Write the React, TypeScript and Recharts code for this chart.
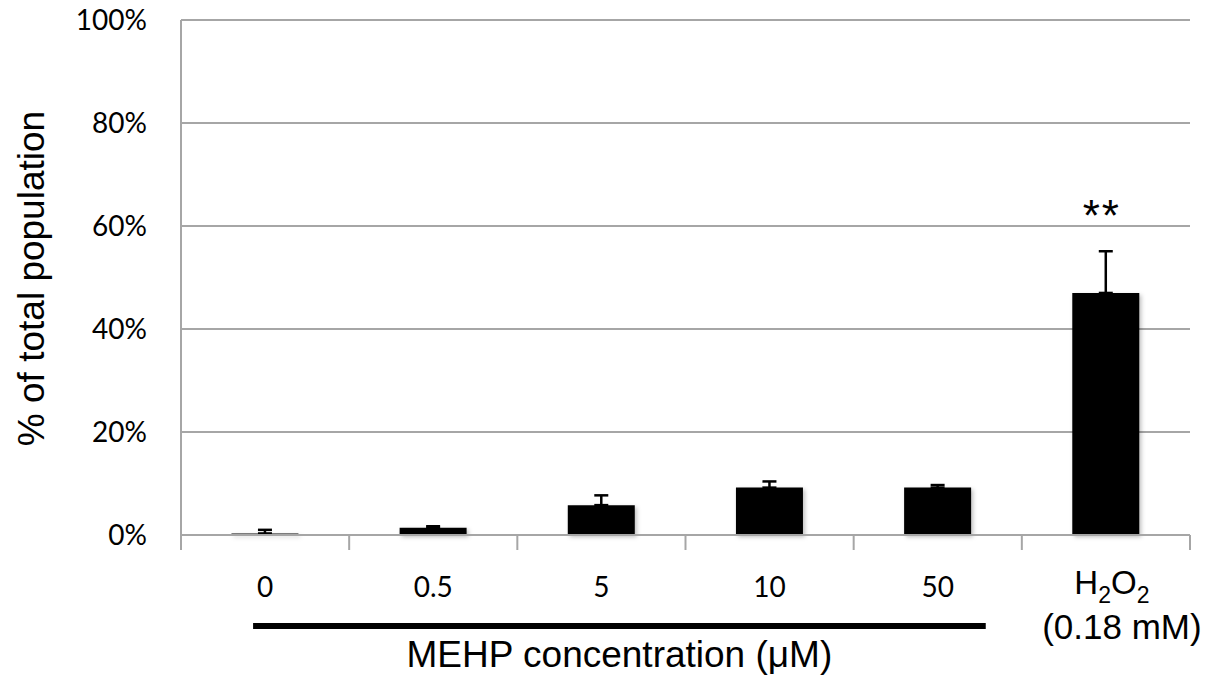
import { BarChart, Bar, XAxis, YAxis, CartesianGrid, ErrorBar, LabelList } from "recharts";

const categories = ["0", "0.5", "5", "10", "50", "H2O2"];
const means = [0.3, 1.4, 5.8, 9.2, 9.2, 47.0];
const errors = [0.7, 0.3, 1.9, 1.2, 0.5, 8.1];
const significance = ["", "", "", "", "", "**"];
const yTicks = [0, 20, 40, 60, 80, 100];

const W = 1207;
const H = 679;
const Y_AXIS_W = 181;
const RIGHT = 17;
const BAND = (W - Y_AXIS_W - RIGHT) / categories.length;

const GRID = "#a6a6a6";
const TICK_FONT = "Lato, 'Open Sans', sans-serif";
const TITLE_FONT = "'Liberation Sans', Arial, sans-serif";

const data = categories.map((c, i) => ({
  name: c,
  value: means[i],
  err: [0, errors[i]],
  sig: significance[i],
}));

// Excel-style tick marks sit on the category boundaries, not under the labels
function EdgeTicks({ x, y, last }: { x: number; y: number; last: boolean }) {
  return (
    <g>
      <line x1={x - BAND / 2} x2={x - BAND / 2} y1={y} y2={y + 15} stroke={GRID} strokeWidth={2} />
      {last && <line x1={x + BAND / 2} x2={x + BAND / 2} y1={y} y2={y + 15} stroke={GRID} strokeWidth={2} />}
    </g>
  );
}

function XTick(props: any) {
  const { x, y, payload, index } = props;
  const last = index === categories.length - 1;
  if (payload.value === "H2O2") {
    return (
      <g>
        <EdgeTicks x={x} y={y} last={last} />
        <text x={x + 6} y={y + 59} textAnchor="middle" fontFamily={TITLE_FONT} fontSize={33} fill="#000">
          H<tspan fontSize={23} dy={9}>2</tspan>
          <tspan dy={-9}>O</tspan>
          <tspan fontSize={23} dy={9}>2</tspan>
        </text>
        <text x={x + 16} y={y + 104} textAnchor="middle" fontFamily={TITLE_FONT} fontSize={35} fill="#000">
          (0.18 mM)
        </text>
      </g>
    );
  }
  // thick bar under the MEHP doses + axis title, drawn once from the first tick
  let extra = null;
  if (index === 0) {
    const x1 = x - 12;
    const x2 = x + BAND * 4 + 48;
    extra = (
      <g>
        <line x1={x1} x2={x2} y1={y + 91} y2={y + 91} stroke="#000" strokeWidth={6} />
        <text x={(x1 + x2) / 2} y={y + 132} textAnchor="middle" fontFamily={TITLE_FONT} fontSize={37} fill="#000">
          MEHP concentration (μM)
        </text>
      </g>
    );
  }
  return (
    <g>
      <EdgeTicks x={x} y={y} last={last} />
      <text x={x} y={y + 62} textAnchor="middle" fontFamily={TICK_FONT} fontSize={28} fill="#000">
        {payload.value}
      </text>
      {extra}
    </g>
  );
}

function YTitle(props: any) {
  const { viewBox } = props;
  const cx = 31;
  const cy = viewBox.y + viewBox.height / 2 + 1;
  return (
    <text
      x={cx}
      y={cy}
      transform={`rotate(-90, ${cx}, ${cy})`}
      textAnchor="middle"
      dominantBaseline="central"
      fontFamily={TITLE_FONT}
      fontSize={37}
      fill="#000"
    >
      % of total population
    </text>
  );
}

function SigLabel(props: any) {
  const { x, y, width, value } = props;
  if (!value) return null;
  return (
    <text
      x={x + width / 2 - 4}
      y={y - 62}
      textAnchor="middle"
      fontFamily={TITLE_FONT}
      fontSize={44}
      letterSpacing={2}
      fill="#000"
    >
      {value}
    </text>
  );
}

export default function App() {
  return (
    <div style={{ width: W, height: H, background: "#fff" }}>
      <style>{`body{margin:0}`}</style>
      <BarChart
        width={W}
        height={H}
        data={data}
        margin={{ top: 20, right: RIGHT, bottom: 0, left: 0 }}
        barCategoryGap="30%"
      >
        <CartesianGrid vertical={false} stroke={GRID} strokeWidth={2} />
        <XAxis
          dataKey="name"
          height={144}
          interval={0}
          axisLine={{ stroke: GRID, strokeWidth: 2 }}
          tickLine={false}
          tickSize={0}
          tickMargin={0}
          tick={<XTick />}
        />
        <YAxis
          width={Y_AXIS_W}
          domain={[0, 100]}
          ticks={yTicks}
          tickFormatter={(v) => `${v}%`}
          axisLine={{ stroke: GRID, strokeWidth: 2 }}
          tickLine={false}
          tickSize={0}
          tickMargin={34}
          tick={{ fill: "#000", fontSize: 28, fontFamily: TICK_FONT }}
          label={<YTitle />}
        />
        <Bar
          dataKey="value"
          fill="#000"
          isAnimationActive={false}
          style={{ filter: "drop-shadow(2px 2px 2px rgba(0,0,0,0.25))" }}
        >
          <ErrorBar dataKey="err" width={7} stroke="#000" strokeWidth={2.5} direction="y" />
          <LabelList dataKey="sig" content={<SigLabel />} />
        </Bar>
      </BarChart>
    </div>
  );
}
